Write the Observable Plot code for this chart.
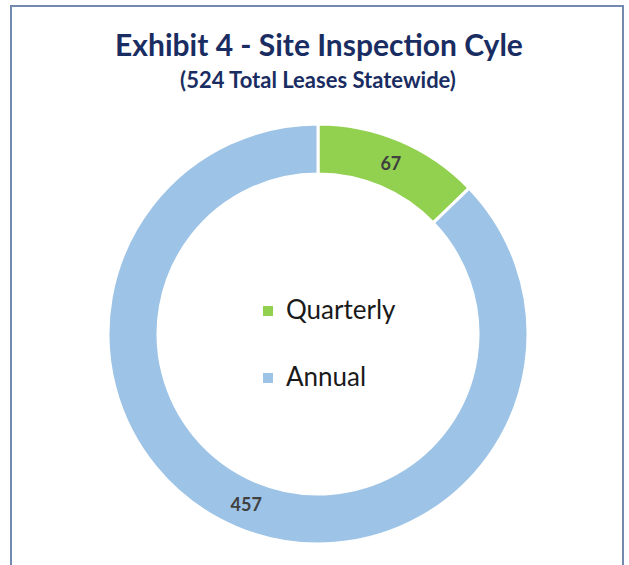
<!DOCTYPE html>
<html>
<head>
<meta charset="utf-8">
<script src="https://cdn.jsdelivr.net/npm/d3@7"></script>
<script src="https://cdn.jsdelivr.net/npm/@observablehq/plot@0.6"></script>
<style>
  html, body { margin: 0; padding: 0; background: #fff; }
  body { position: relative; width: 629px; height: 565px; overflow: hidden; font-family: Lato, "Open Sans", sans-serif; }
  #frame { position: absolute; left: 10px; top: 5px; width: 614px; height: 640px; border: 2px solid #7489b0; box-sizing: border-box; }
  #title { position: absolute; left: 0; width: 638px; top: 26px; line-height: 36px; text-align: center; font-weight: 700; font-size: 30px; color: #1a2d62; }
  #subtitle { position: absolute; left: 0; width: 636px; top: 67px; line-height: 26px; text-align: center; font-weight: 700; font-size: 22px; color: #1a2d62; }
  #chart { position: absolute; left: 0; top: 0; }
  #legend { position: absolute; left: 263px; top: 292px; font-size: 26px; color: #1a1a1a; }
  #legend .row { display: flex; align-items: center; height: 34px; margin-bottom: 33px; }
  #legend .sw { width: 10px; height: 10px; margin-right: 13px; margin-top: 4px; }
</style>
</head>
<body>
<div id="frame"></div>
<div id="title">Exhibit 4 - Site Inspection Cyle</div>
<div id="subtitle">(524 Total Leases Statewide)</div>
<div id="chart"></div>
<div id="legend"></div>
<script>
const categories = ["Quarterly", "Annual"];
const values = [67, 457];
const colors = ["#92d050", "#9dc3e6"];
const innerRatio = 160 / 210;

const pie = d3.pie().sort(null).value(d => d.value);
const data = categories.map((c, i) => ({category: c, value: values[i], color: colors[i]}));
const arcs = pie(data);
const midR = (1 + innerRatio) / 2;
const labels = arcs.map(a => {
  const m = (a.startAngle + a.endAngle) / 2;
  return {x: Math.sin(m) * midR, y: Math.cos(m) * midR, text: String(a.data.value)};
});

function donut(index, scales) {
  const cx = scales.x(0), cy = scales.y(0);
  const R = scales.x(1) - cx;
  const arc = d3.arc().innerRadius(R * innerRatio).outerRadius(R);
  const g = d3.create("svg:g").attr("transform", `translate(${cx},${cy})`);
  g.selectAll("path").data(arcs).join("path")
    .attr("d", arc)
    .attr("fill", d => d.data.color)
    .attr("stroke", "#fff")
    .attr("stroke-width", 3);
  return g.node();
}

const chart = Plot.plot({
  width: 629,
  height: 565,
  marginLeft: 108,
  marginRight: 101,
  marginTop: 124,
  marginBottom: 21,
  x: {domain: [-1, 1], axis: null},
  y: {domain: [-1, 1], axis: null},
  style: {background: "transparent", fontFamily: "Lato, 'Open Sans', sans-serif"},
  marks: [
    donut,
    Plot.text(labels, {x: "x", y: "y", text: "text", fontSize: 18, fontWeight: 700, fill: "#404040"})
  ]
});
document.getElementById("chart").appendChild(chart);

const legend = d3.select("#legend");
data.forEach(d => {
  const row = legend.append("div").attr("class", "row");
  row.append("div").attr("class", "sw").style("background", d.color);
  row.append("span").text(d.category);
});
</script>
</body>
</html>
